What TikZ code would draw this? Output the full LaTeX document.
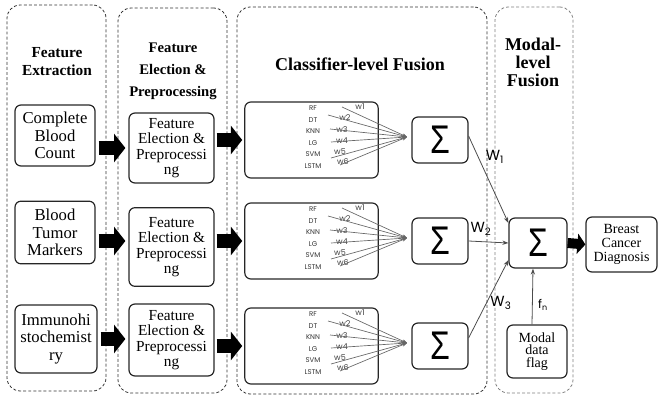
\documentclass[tikz,border=0pt]{standalone}
\usepackage{fontspec}
\usepackage{graphicx}
\setmainfont{Liberation Serif}
\newfontfamily\serifm{Liberation Serif}
\newfontfamily\gothic{Poppins}
\newfontfamily\arialf{Liberation Sans}
\usetikzlibrary{arrows.meta,calc}
\begin{document}
\begin{tikzpicture}[x=0.75pt,y=-0.75pt,
  panel/.style={draw=black!80, dash pattern=on 2.2pt off 1.6pt, line width=0.6pt, rounded corners=10pt, inner sep=0pt, outer sep=0pt},
  ibox/.style={draw=black!85, line width=0.9pt, rounded corners=4.5pt, align=center, inner sep=0pt},
  ttl/.style={align=center},
  cbox/.style={ibox, minimum width=100pt, minimum height=57pt},
  sbox/.style={ibox, minimum width=42pt, minimum height=34.5pt, font=\arialf\fontsize{30}{30}\selectfont},
  clab/.style={font=\gothic\fontsize{5.2}{6}\selectfont, text=black!80, inner sep=0pt},
  wlab/.style={font=\gothic\fontsize{6}{6}\selectfont, text=black!75, inner sep=0pt},
  wline/.style={draw=black!60, line width=0.5pt, -{Stealth[length=3.5pt,width=2.8pt]}},
  barrow/.style={line width=11pt, -{Triangle[length=8.5pt,width=21pt]}},
  sarrow/.style={line width=7.5pt, -{Triangle[length=6pt,width=15pt]}},
  conn/.style={draw=black!70, line width=0.6pt, -{Stealth[length=4.5pt,width=3.2pt]}},
  glab/.style={font=\gothic\fontsize{11}{11}\selectfont, inner sep=0pt}
]
\useasboundingbox (0,0) rectangle (658,399);

% panels
\node[panel, minimum width=74.25pt, minimum height=289.5pt] (pan1) at (56.5,198) {};
\node[panel, minimum width=81.75pt, minimum height=288.75pt] (pan2) at (172.5,200.5) {};
\node[panel, minimum width=187.5pt, minimum height=290.25pt] (pan3) at (362,200.5) {};
\node[panel, draw=black!50, minimum width=58.5pt, minimum height=289.5pt] (pan4) at (534,200) {};

% titles
\node[ttl, font=\serifm\bfseries\fontsize{11.5}{13.5}\selectfont] (t1) at (57,62) {Feature\\Extraction};
\node[ttl, font=\serifm\bfseries\fontsize{11}{16.5}\selectfont] (t2) at (173,71) {Feature\\Election \&\\Preprocessing};
\node[ttl, font=\serifm\bfseries\fontsize{13.5}{14}\selectfont] (t3) at (360,64) {Classifier-level Fusion};
\node[ttl, font=\serifm\bfseries\fontsize{13.5}{13.5}\selectfont] (t4) at (533,62) {Modal-\\level\\Fusion};

% feature extraction boxes
\node[ibox, font=\serifm\fontsize{12.5}{13}\selectfont, minimum width=60pt, minimum height=45.75pt] (A1) at (55,135.5) {Complete\\Blood\\Count};
\node[ibox, font=\serifm\fontsize{12.5}{13}\selectfont, minimum width=60pt, minimum height=47pt] (A2) at (55,232.5) {Blood\\Tumor\\Markers};
\node[ibox, font=\serifm\fontsize{12.5}{13}\selectfont, minimum width=61.5pt, minimum height=51pt] (A3) at (56,339) {Immunohi\\stochemist\\ry};

% preprocessing boxes
\node[ibox, font=\serifm\fontsize{11.5}{11.6}\selectfont, minimum width=63.75pt, minimum height=52.5pt] (P1) at (171.5,148) {Feature\\Election \&\\Preprocessi\\ng};
\node[ibox, font=\serifm\fontsize{11.5}{11.6}\selectfont, minimum width=63.75pt, minimum height=59pt] (P2) at (171.5,247) {Feature\\Election \&\\Preprocessi\\ng};
\node[ibox, font=\serifm\fontsize{11.5}{11.6}\selectfont, minimum width=63.75pt, minimum height=54pt] (P3) at (171.5,340) {Feature\\Election \&\\Preprocessi\\ng};

% classifier boxes
\foreach \i/\t in {1/102,2/203,3/308} {
  \node[cbox] (C\i) at (311.5,\t+38) {};
  \foreach \lab [count=\k from 0] in {RF,DT,KNN,LG,SVM,LSTM}
    \node[clab] (l\i-\k) at (313,\t+6.5+11.5*\k) {\lab};
  \coordinate (k\i) at (407,\t+35);
  \foreach \sx/\sy/\wx/\wy [count=\k] in {342/5/360/5, 328/13/345/16, 330/27/342/28, 331/40/342/39, 331/56/340/50, 340/63/343/60} {
    \coordinate (st\i-\k) at (\sx,\t+\sy);
    \node[wlab] (w\i-\k) at (\wx,\t+\wy) {w\k};
    \draw[wline] (st\i-\k) -- (k\i);
  }
  \node[sbox] (s\i) at (440,\t+38) {\scalebox{0.8}[1]{Σ}};
}

% modal fusion
\node[sbox, minimum width=43.5pt, minimum height=37.5pt] (M) at (538,243) {\scalebox{0.8}[1]{Σ}};
\node[ibox, font=\serifm\fontsize{10.5}{10.2}\selectfont, minimum width=53.25pt, minimum height=41.25pt] (B) at (621.5,244.5) {Breast\\Cancer\\Diagnosis};
\node[ibox, font=\serifm\fontsize{10.5}{9.6}\selectfont, minimum width=45pt, minimum height=39.75pt] (F) at (537,351.5) {Modal\\data\\flag};

% block arrows
\draw[barrow, shorten <=2.25pt, shorten >=2.25pt] (A1.east |- P1.west) -- (P1.west);
\draw[barrow, shorten <=2.25pt, shorten >=2.25pt] (A2.east |- C2.west) -- (P2.west |- C2.west);
\draw[barrow, shorten <=2.25pt, shorten >=2.25pt] (A3.east) -- (P3.west |- A3.east);
\draw[barrow, shorten <=1.5pt, shorten >=1.5pt] (P1.east |- C1.west) -- (C1.west);
\draw[barrow, shorten <=1.5pt, shorten >=1.5pt] (P2.east |- C2.west) -- (C2.west);
\draw[barrow, shorten <=1.5pt, shorten >=1.5pt] (P3.east |- C3.west) -- (C3.west);
\draw[sarrow] (M.east) -- (B.west);

% weighted connectors
\draw[conn] ([yshift=3pt]s1.east) -- ([yshift=15pt]M.west);
\draw[conn] (s2.east) -- (M.west);
\draw[conn] ([yshift=6pt]s3.east) -- ([yshift=-12.75pt]M.west);
\draw[conn] ([xshift=-3.75pt]F.north) -- ([xshift=-3.75pt]M.south);

\node[glab] (W1) at (495,157) {W\textsubscript{1}};
\node[glab] (W2) at (481,229) {W\textsubscript{2}};
\node[glab] (W3) at (501,303) {W\textsubscript{3}};
\node[glab, font=\gothic\fontsize{9}{9}\selectfont] (fn) at (543,305) {f\textsubscript{n}};
\end{tikzpicture}
\end{document}
